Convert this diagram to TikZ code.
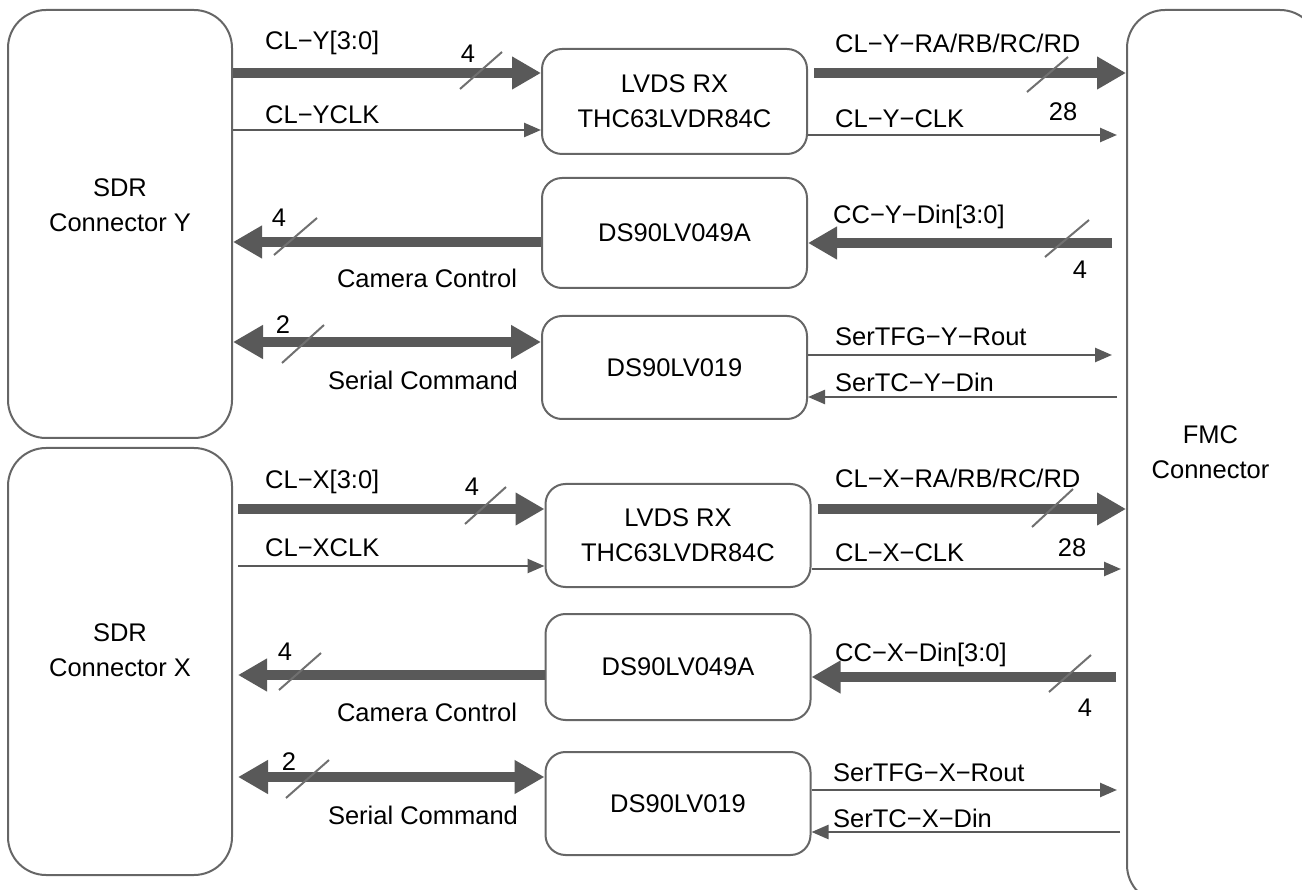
\documentclass[tikz,border=0pt]{standalone}
\usepackage{fontspec}
\setmainfont{Liberation Sans}
\usepackage{xcolor}
\usepackage{tikz}
\usetikzlibrary{arrows.meta}
\definecolor{linegray}{HTML}{595959}
\definecolor{boxgray}{HTML}{666666}
\definecolor{markgray}{HTML}{707070}
\tikzset{
  block/.style     = {rectangle, draw=boxgray, line width=2pt, rounded corners=20pt,
                      align=center, minimum width=265pt, inner sep=0pt},
  conn/.style      = {rectangle, draw=boxgray, line width=2pt, rounded corners=38pt,
                      align=center, inner sep=0pt},
  busarrow/.style  = {line width=10pt, draw=linegray, -{Triangle[length=29pt,width=31pt]}},
  dbusarrow/.style = {line width=10pt, draw=linegray,
                      {Triangle[length=30pt,width=32pt]}-{Triangle[length=30pt,width=32pt]}},
  sigarrow/.style  = {line width=2.5pt, draw=linegray, -{Triangle[length=17pt,width=14pt]}},
  busmark/.style   = {line width=2pt, draw=markgray},
  lbl/.style       = {anchor=west, inner sep=0pt},
}

\begin{document}
\begin{tikzpicture}[x=1pt, y=-1pt, every node/.style={font=\fontsize{25.5}{35}\selectfont}]

    \path[use as bounding box] (0,0) rectangle (1302,890);
    \clip (0,0) rectangle (1302,890);

    % connectors
    \node[conn, minimum width=224pt, minimum height=428pt,
          label={[align=center, yshift=19pt]center:SDR\\Connector Y}] (sdry) at (120,224) {};
    \node[conn, minimum width=224pt, minimum height=427pt,
          label={[align=center, yshift=11pt]center:SDR\\Connector X}] (sdrx) at (120,661.5) {};
    \node[conn, minimum width=191pt, minimum height=893pt,
          label={[align=center, xshift=-12pt, yshift=4pt]center:FMC\\Connector}] (fmc) at (1222.5,456.5) {};

    % Y side chips
    \node[block, minimum height=105pt] (lvdsy) at (674.5,101.5) {LVDS RX\\THC63LVDR84C};
    \node[block, minimum height=110pt] (cctly) at (674.5,233)   {DS90LV049A};
    \node[block, minimum height=103pt] (sery)  at (674.5,367.5) {DS90LV019};

    % X side chips
    \node[block, minimum height=103pt] (lvdsx) at (678,535.5) {LVDS RX\\THC63LVDR84C};
    \node[block, minimum height=106pt] (cctlx) at (678,667)   {DS90LV049A};
    \node[block, minimum height=103pt] (serx)  at (678,803.5) {DS90LV019};

    % Y links
    \draw[busarrow] (sdry.east |- 0,73) -- (lvdsy.west |- 0,73);
    \draw[sigarrow] (sdry.east |- 0,130) -- (lvdsy.west |- 0,130);
    \draw[busarrow, shorten <=6pt] (lvdsy.east |- 0,73) -- (fmc.west |- 0,73);
    \draw[sigarrow, shorten >=9pt] (lvdsy.east |- 0,135) -- (fmc.west |- 0,135);
    \draw[busarrow] (cctly.west |- 0,242) -- (sdry.east |- 0,242);
    \draw[busarrow, shorten <=14pt] (fmc.west |- 0,243) -- (cctly.east |- 0,243);
    \draw[dbusarrow] (sdry.east |- 0,342) -- (sery.west |- 0,342);
    \draw[sigarrow, shorten >=14pt] (sery.east |- 0,355) -- (fmc.west |- 0,355);
    \draw[sigarrow, shorten <=9pt] (fmc.west |- 0,397) -- (sery.east |- 0,397);

    % X links
    \draw[busarrow, shorten <=5pt] (sdrx.east |- 0,509) -- (lvdsx.west |- 0,509);
    \draw[sigarrow, shorten <=5pt] (sdrx.east |- 0,566) -- (lvdsx.west |- 0,566);
    \draw[busarrow, shorten <=6pt] (lvdsx.east |- 0,509) -- (fmc.west |- 0,509);
    \draw[sigarrow, shorten >=5pt] (lvdsx.east |- 0,569) -- (fmc.west |- 0,569);
    \draw[busarrow, shorten >=5pt] (cctlx.west |- 0,675) -- (sdrx.east |- 0,675);
    \draw[busarrow, shorten <=10pt] (fmc.west |- 0,677) -- (cctlx.east |- 0,677);
    \draw[dbusarrow, shorten <=5pt] (sdrx.east |- 0,777) -- (serx.west |- 0,777);
    \draw[sigarrow, shorten >=9pt] (serx.east |- 0,790) -- (fmc.west |- 0,790);
    \draw[sigarrow, shorten <=6pt] (fmc.west |- 0,832) -- (serx.east |- 0,832);

    % bus width marks
    \draw[busmark] (460,89) -- (502,52);
    \draw[busmark] (1027,92) -- (1068,57);
    \draw[busmark] (274,255) -- (317,218);
    \draw[busmark] (1045,257) -- (1089,220);
    \draw[busmark] (282,363) -- (324,325);
    \draw[busmark] (465,524) -- (506,487);
    \draw[busmark] (1032,527) -- (1073,489);
    \draw[busmark] (279,690) -- (321,653);
    \draw[busmark] (1049,692) -- (1091,655);
    \draw[busmark] (286,798) -- (329,760);

    % Y labels
    \node[lbl] (tclyd)  at (265,43)  {CL−Y[3:0]};
    \node      (wclyd)  at (468,54)  {4};
    \node[lbl] (tclyc)  at (265,115) {CL−YCLK};
    \node[lbl] (tclyr)  at (835,43)  {CL−Y−RA/RB/RC/RD};
    \node      (wclyr)  at (1063,112) {28};
    \node[lbl] (tclyk)  at (835,119) {CL−Y−CLK};
    \node      (wccy)   at (279,218) {4};
    \node      (tcamy)  at (427,278) {Camera Control};
    \node[lbl] (tccy)   at (833,217) {CC−Y−Din[3:0]};
    \node      (wccyr)  at (1080,270) {4};
    \node      (wsery)  at (283,325) {2};
    \node      (tsery)  at (423,380) {Serial Command};
    \node[lbl] (tstfy)  at (835,337) {SerTFG−Y−Rout};
    \node[lbl] (tstcy)  at (835,382) {SerTC−Y−Din};

    % X labels
    \node[lbl] (tclxd)  at (265,482) {CL−X[3:0]};
    \node      (wclxd)  at (472,487) {4};
    \node[lbl] (tclxc)  at (265,548) {CL−XCLK};
    \node[lbl] (tclxr)  at (835,478) {CL−X−RA/RB/RC/RD};
    \node      (wclxr)  at (1072,548) {28};
    \node[lbl] (tclxk)  at (835,553) {CL−X−CLK};
    \node      (wccx)   at (285,652) {4};
    \node      (tcamx)  at (427,712) {Camera Control};
    \node[lbl] (tccx)   at (835,655) {CC−X−Din[3:0]};
    \node      (wccxr)  at (1085,708) {4};
    \node      (wserx)  at (289,762) {2};
    \node      (tserx)  at (423,815) {Serial Command};
    \node[lbl] (tstfx)  at (833,773) {SerTFG−X−Rout};
    \node[lbl] (tstcx)  at (833,818) {SerTC−X−Din};

\end{tikzpicture}
\end{document}
